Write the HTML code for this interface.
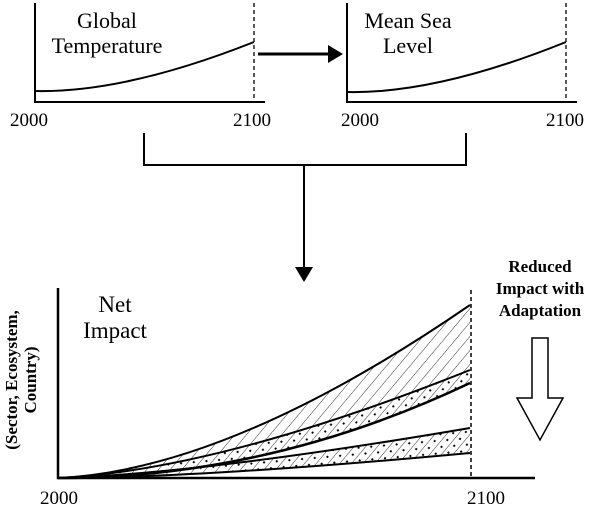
<!DOCTYPE html>
<html><head><meta charset="utf-8"><style>
html,body{margin:0;padding:0;background:#fff;}
svg{display:block;font-family:"Liberation Serif",serif;}
</style></head><body>
<svg width="600" height="509" viewBox="0 0 600 509" xmlns="http://www.w3.org/2000/svg">
<defs>
<pattern id="h" width="9" height="9" patternUnits="userSpaceOnUse" patternTransform="rotate(40)">
<line x1="0" y1="0" x2="0" y2="9" stroke="#000" stroke-width="0.8"/>
</pattern>
<pattern id="hd" width="9" height="9" patternUnits="userSpaceOnUse" patternTransform="rotate(40)">
<line x1="0" y1="0" x2="0" y2="9" stroke="#000" stroke-width="0.8"/>
<circle cx="4.5" cy="4.5" r="1.1" fill="#000"/>
</pattern>
</defs>
<g stroke="#000" fill="none">
<path d="M35 3 V102 H265" stroke-width="2"/>
<line x1="254" y1="3" x2="254" y2="102" stroke-width="1.3" stroke-dasharray="4,3"/>
<path d="M35 91 Q125 93 254 42" stroke-width="2"/>
<line x1="258" y1="54" x2="330" y2="54" stroke-width="3"/>
<path d="M347 3 V102 H577" stroke-width="2"/>
<line x1="566" y1="3" x2="566" y2="102" stroke-width="1.3" stroke-dasharray="4,3"/>
<path d="M347 92 Q437 94 566 42" stroke-width="2"/>
<path d="M144 133 V165 H466 V133" stroke-width="2"/>
<line x1="304" y1="165" x2="304" y2="268" stroke-width="2"/>
<path d="M58 478 Q230 470 470 305 L470 370 Q220 470 58 478Z" fill="url(#h)" stroke="none"/>
<path d="M58 478 Q220 470 470 370 L470 383 Q270 478 58 478Z" fill="url(#hd)" stroke="none"/>
<path d="M58 478 Q200 474 470 428 L470 453 Q200 478 58 478Z" fill="url(#hd)" stroke="none"/>
<path d="M58 478 Q230 470 470 305" stroke-width="2"/>
<path d="M58 478 Q220 470 470 370" stroke-width="2"/>
<path d="M58 478 Q270 478 470 383" stroke-width="2.5"/>
<path d="M58 478 Q200 474 470 428" stroke-width="2"/>
<path d="M58 478 Q200 478 470 453" stroke-width="2"/>
<path d="M58 288 V478 H535" stroke-width="2.5"/>
<line x1="471" y1="290" x2="471" y2="478" stroke-width="1.5" stroke-dasharray="4,3"/>
<path d="M532 338 H548 V398 H563 L540 440 L517 398 H532 Z" stroke-width="1.5"/>
</g>
<polygon points="328,45 343,54 328,63" fill="#000"/>
<polygon points="295,267 313,267 304,282" fill="#000"/>
<g font-size="22" text-anchor="middle" fill="#000">
<text x="107" y="28">Global</text>
<text x="107" y="53">Temperature</text>
<text x="408" y="28">Mean Sea</text>
<text x="408" y="53">Level</text>
<text x="115" y="312" font-size="23">Net</text>
<text x="115" y="338" font-size="23">Impact</text>
</g>
<g font-size="19" text-anchor="middle" fill="#000">
<text x="29" y="126">2000</text>
<text x="252" y="126">2100</text>
<text x="360" y="126">2000</text>
<text x="565" y="126">2100</text>
<text x="59" y="504">2000</text>
<text x="486" y="504">2100</text>
</g>
<g font-size="17" font-weight="bold" text-anchor="middle" fill="#000">
<text x="540" y="272">Reduced</text>
<text x="540" y="294">Impact with</text>
<text x="540" y="316">Adaptation</text>
<text transform="translate(17,380) rotate(-90)">(Sector, Ecosystem,</text>
<text transform="translate(36,380) rotate(-90)">Country)</text>
</g>
</svg>
</body></html>
